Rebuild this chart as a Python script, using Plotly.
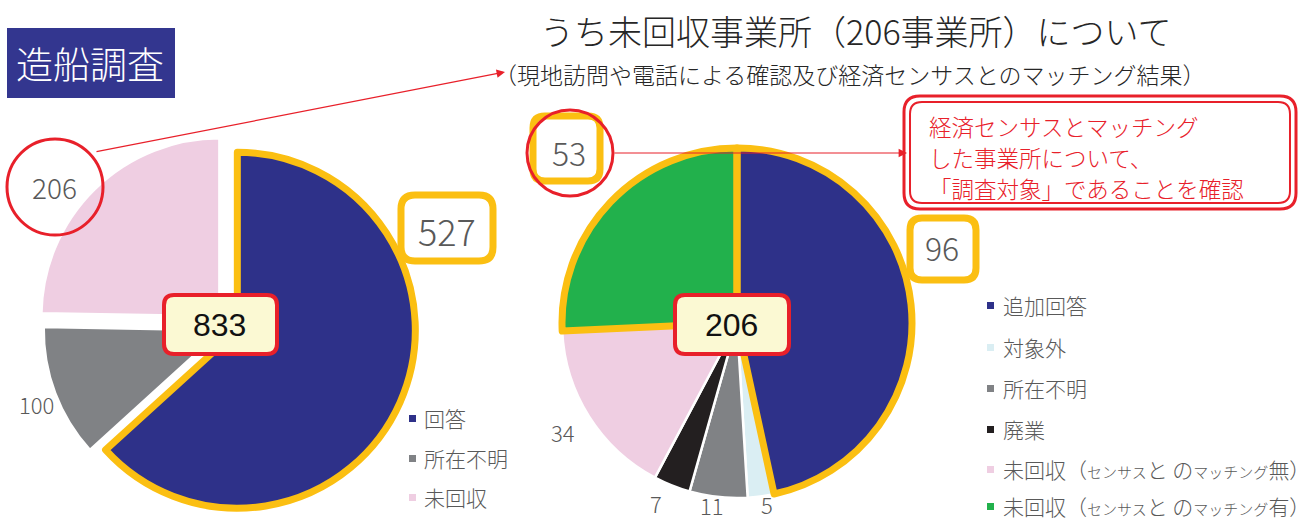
import re
import plotly.graph_objects as go

W, H = 1311, 521

# ---------------- data ----------------
left_labels = ["回答", "所在不明", "未回収"]
left_values = [527, 100, 206]
left_total = 833

right_labels = ["追加回答", "対象外", "所在不明", "廃業",
                "未回収（センサスと のマッチング無）", "未回収（センサスと のマッチング有）"]
right_values = [96, 5, 11, 7, 34, 53]
right_total = 206

badge_text = "造船調査"
title_text = "うち未回収事業所（206事業所）について"
subtitle_text = "（現地訪問や電話による確認及び経済センサスとのマッチング結果）"
callout_lines = ["経済センサスとマッチング", "した事業所について、", "「調査対象」であることを確認"]

# ---------------- styles ----------------
NAVY = "#2E3189"
GRAY = "#808285"
PINK = "#EFCEE2"
LBLUE = "#DAEEF3"
BLACK = "#231F20"
GREEN = "#22B14C"
GOLD = "#FBBF12"
RED = "#E8202A"
TXT = "#595959"
CJK = "Noto Sans CJK JP, Noto Sans, sans-serif"
NUM = "Liberation Sans Narrow, Noto Sans CJK JP, sans-serif"

left_colors = [NAVY, GRAY, PINK]
right_colors = [NAVY, LBLUE, GRAY, BLACK, PINK, GREEN]
left_pull = [0.045, 0.05, 0.085]
left_gold = [True, False, False]
right_gold = [True, False, False, False, False, True]


def X(p):
    return p / W


def Y(p):
    return 1 - p / H


def rrect(x0, y0, x1, y1, r):
    pts = [
        ("M", x0 + r, y0), ("L", x1 - r, y0), ("Q", x1, y0, x1, y0 + r),
        ("L", x1, y1 - r), ("Q", x1, y1, x1 - r, y1), ("L", x0 + r, y1),
        ("Q", x0, y1, x0, y1 - r), ("L", x0, y0 + r), ("Q", x0, y0, x0 + r, y0),
    ]
    s = ""
    for p in pts:
        cmd = p[0]
        coords = p[1:]
        pairs = []
        for i in range(0, len(coords), 2):
            pairs.append(f"{X(coords[i]):.5f},{Y(coords[i+1]):.5f}")
        s += cmd + " " + " ".join(pairs) + " "
    return s + "Z"


def dom(cx, cy, half):
    return dict(x=[X(cx - half), X(cx + half)], y=[Y(cy + half), Y(cy - half)])


def narrow_kana(s, size):
    # katakana runs drawn slightly smaller (condensed look of the original legend)
    return re.sub(r"([\u30A0-\u30FF]+)",
                  lambda m: f"<span style='font-size:{size}px'>{m.group(1)}</span>", s)


fig = go.Figure()

# left pie
lcx, lcy, lr = 230, 327, 178
ldom = dom(lcx, lcy, lr * (1 + max(left_pull)))
fig.add_trace(go.Pie(
    labels=left_labels, values=left_values, sort=False, direction="clockwise",
    rotation=0, pull=left_pull, domain=ldom, textinfo="none",
    marker=dict(colors=left_colors, line=dict(color="white", width=2.5)),
    showlegend=False, hoverinfo="label+value"))
fig.add_trace(go.Pie(
    labels=left_labels, values=left_values, sort=False, direction="clockwise",
    rotation=0, pull=left_pull, domain=ldom, textinfo="none",
    marker=dict(colors=["rgba(0,0,0,0)"] * 3,
                line=dict(color=[GOLD if g else "rgba(0,0,0,0)" for g in left_gold],
                          width=[7 if g else 0 for g in left_gold])),
    showlegend=False, hoverinfo="skip"))

# right pie
rcx, rcy, rr = 737, 323, 175
rdom = dom(rcx, rcy, rr)
fig.add_trace(go.Pie(
    labels=right_labels, values=right_values, sort=False, direction="clockwise",
    rotation=0, domain=rdom, textinfo="none",
    marker=dict(colors=right_colors, line=dict(color="white", width=2.5)),
    showlegend=False, hoverinfo="label+value"))
fig.add_trace(go.Pie(
    labels=right_labels, values=right_values, sort=False, direction="clockwise",
    rotation=0, domain=rdom, textinfo="none",
    marker=dict(colors=["rgba(0,0,0,0)"] * 6,
                line=dict(color=[GOLD if g else "rgba(0,0,0,0)" for g in right_gold],
                          width=[7 if g else 0 for g in right_gold])),
    showlegend=False, hoverinfo="skip"))

shapes = []
# badge
shapes.append(dict(type="rect", xref="paper", yref="paper", x0=X(7), x1=X(175),
                   y0=Y(98), y1=Y(28), fillcolor="#33368F", line=dict(width=0)))
# left red circle
shapes.append(dict(type="circle", xref="paper", yref="paper", x0=X(7), x1=X(103),
                   y0=Y(235), y1=Y(139), line=dict(color=RED, width=3)))
# 527 gold box
shapes.append(dict(type="path", xref="paper", yref="paper", path=rrect(401, 195, 493, 261, 14),
                   fillcolor="white", line=dict(color=GOLD, width=7)))
# 833 box
shapes.append(dict(type="path", xref="paper", yref="paper", path=rrect(164, 295, 277, 354, 10),
                   fillcolor="#FBF9D3", line=dict(color=RED, width=4)))
# 53 gold box
shapes.append(dict(type="path", xref="paper", yref="paper", path=rrect(533, 116, 600, 181, 12),
                   fillcolor="white", line=dict(color=GOLD, width=7)))
# 53 red circle
shapes.append(dict(type="circle", xref="paper", yref="paper", x0=X(527), x1=X(613),
                   y0=Y(196), y1=Y(110), line=dict(color=RED, width=3)))
# 96 gold box
shapes.append(dict(type="path", xref="paper", yref="paper", path=rrect(910, 218, 976, 280, 12),
                   fillcolor="white", line=dict(color=GOLD, width=7)))
# 206 center box
shapes.append(dict(type="path", xref="paper", yref="paper", path=rrect(675, 295, 789, 354, 10),
                   fillcolor="#FBF9D3", line=dict(color=RED, width=4)))
# callout double border
shapes.append(dict(type="path", xref="paper", yref="paper", path=rrect(904, 96, 1296, 209, 16),
                   fillcolor="white", line=dict(color=RED, width=3)))
shapes.append(dict(type="path", xref="paper", yref="paper", path=rrect(910, 102, 1290, 203, 12),
                   line=dict(color=RED, width=2)))

ann = []
def txt(x, y, s, size, color=TXT, family=CJK, xanchor="center", weight=None, align="center"):
    f = dict(size=size, color=color, family=family)
    if weight:
        f["weight"] = weight
    ann.append(dict(x=X(x), y=Y(y), xref="paper", yref="paper", text=s, showarrow=False,
                    xanchor=xanchor, yanchor="middle", font=f, align=align))

txt(90, 63, badge_text, 37, color="white", weight=300)
txt(856, 30, title_text, 34, color="#262626", weight=300)
txt(850, 74, subtitle_text, 23, color="#262626", weight=300)
for line, yy in zip(callout_lines, [126, 157, 188]):
    txt(927, yy, line, 22.5, color=RED, xanchor="left", weight=300)

# value labels
txt(55, 187, str(left_values[2]), 28, family=NUM, weight=300)
txt(447, 230, str(left_values[0]), 36, family=NUM, weight=300)
txt(36, 404, str(left_values[1]), 22, family=NUM, weight=300)
txt(220, 325, str(left_total), 32, color="#111111", family="Liberation Sans, Arial, sans-serif")
txt(569, 152, str(right_values[5]), 32, family=NUM, weight=300)
txt(942, 247, str(right_values[0]), 32, family=NUM, weight=300)
txt(563, 432, str(right_values[4]), 22, family=NUM, weight=300)
txt(656, 503, str(right_values[3]), 22, family=NUM, weight=300)
txt(712, 505, str(right_values[2]), 22, family=NUM, weight=300)
txt(767, 504, str(right_values[1]), 22, family=NUM, weight=300)
txt(731, 325, str(right_total), 32, color="#111111", family="Liberation Sans, Arial, sans-serif")

# arrows
ann.append(dict(x=X(505), y=Y(72), xref="paper", yref="paper", ax=-410, ay=80,
                axref="pixel", ayref="pixel", text="", showarrow=True, arrowhead=2,
                arrowsize=1.4, arrowwidth=1.2, arrowcolor=RED))
ann.append(dict(x=X(907), y=Y(153), xref="paper", yref="paper", ax=-294, ay=0,
                axref="pixel", ayref="pixel", text="", showarrow=True, arrowhead=2,
                arrowsize=1.4, arrowwidth=1.2, arrowcolor=RED))

# legends (manual)
left_leg_y = [418, 458, 497]
for lab, col, yy in zip(left_labels, left_colors, left_leg_y):
    shapes.append(dict(type="rect", xref="paper", yref="paper", x0=X(409), x1=X(416),
                       y0=Y(yy + 4), y1=Y(yy - 3), fillcolor=col, line=dict(width=0)))
    txt(422, yy, lab, 21, xanchor="left", weight=300)

right_leg_y = [305, 347, 388, 429, 469, 506]
for lab, col, yy in zip(right_labels, right_colors, right_leg_y):
    shapes.append(dict(type="rect", xref="paper", yref="paper", x0=X(987), x1=X(994),
                       y0=Y(yy + 4), y1=Y(yy - 3), fillcolor=col, line=dict(width=0)))
    txt(1001, yy, narrow_kana(lab, 15), 21, xanchor="left", weight=300)

fig.update_layout(width=W, height=H, margin=dict(l=0, r=0, t=0, b=0),
                  paper_bgcolor="white", plot_bgcolor="white",
                  shapes=shapes, annotations=ann, showlegend=False)

fig.write_html("out.html", config={"displayModeBar": False},
               post_script="document.body.style.margin='0px';document.body.style.overflow='hidden';")
